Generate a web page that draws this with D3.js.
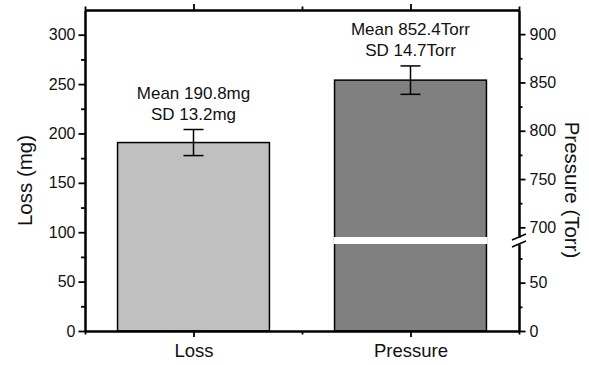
<!DOCTYPE html>
<html>
<head>
<meta charset="utf-8">
<script src="https://cdn.jsdelivr.net/npm/d3@7"></script>
<style>
  body { margin: 0; background: #fff; }
  svg { display: block; font-family: "Liberation Sans", Arial, sans-serif; }
</style>
</head>
<body>
<div id="chart"></div>
<script>
// data
const categories = ["Loss", "Pressure"];
const means = [190.8, 852.4];
const sds = [13.2, 14.7];
const units = ["mg", "Torr"];
const fills = ["#c0c0c0", "#808080"];

const leftTicks = [0, 50, 100, 150, 200, 250, 300];
const leftMinor = [25, 75, 125, 175, 225, 275];
const rightLowTicks = [0, 50];
const rightLowMinor = [25, 75];
const rightHighTicks = [700, 750, 800, 850, 900];
const rightHighMinor = [725, 775, 825, 875];

const width = 589, height = 365;
const plotL = 85, plotR = 519, plotT = 10, plotB = 331;
const breakTop = 237, breakBottom = 244;

const svg = d3.select('#chart').append('svg')
    .attr('width', width)
    .attr('height', height);

const x = d3.scaleLinear().domain([0.5, 2.5]).range([plotL, plotR]);
const yLeft = d3.scaleLinear().domain([0, 325]).range([plotB, plotT]);
// broken right axis: two pieces
const yLow = d3.scaleLinear().domain([0, 90]).range([plotB, breakBottom]);
const yHigh = d3.scaleLinear().domain([690, 925]).range([breakTop, plotT]);

const yFor = [yLeft, yHigh];
const barW = 0.7;

// bars
categories.forEach((c, i) => {
    const ys = yFor[i];
    const x0 = x(i + 1 - barW / 2), x1 = x(i + 1 + barW / 2);
    svg.append('rect')
        .attr('x', x0).attr('y', ys(means[i]))
        .attr('width', x1 - x0).attr('height', plotB - ys(means[i]))
        .attr('fill', fills[i])
        .attr('stroke', '#000')
        .attr('stroke-width', 1.5);
    if (i === 1) {
        // gap for the axis break
        svg.append('rect')
            .attr('x', x0 - 1).attr('y', breakTop)
            .attr('width', x1 - x0 + 2).attr('height', breakBottom - breakTop)
            .attr('fill', '#fff');
    }
    // error bar
    const cx = x(i + 1);
    const hi = ys(means[i] + sds[i]), lo = ys(means[i] - sds[i]);
    const g = svg.append('g').attr('stroke', '#000').attr('stroke-width', 1.5);
    g.append('line').attr('x1', cx).attr('x2', cx).attr('y1', hi).attr('y2', lo);
    g.append('line').attr('x1', cx - 10).attr('x2', cx + 10).attr('y1', hi).attr('y2', hi);
    g.append('line').attr('x1', cx - 10).attr('x2', cx + 10).attr('y1', lo).attr('y2', lo);

    // annotation
    const t = svg.append('text')
        .attr('text-anchor', 'middle')
        .attr('font-size', 17)
        .attr('fill', '#111');
    t.append('tspan').attr('x', cx).attr('y', hi - 31)
        .text(`Mean ${means[i]}${units[i]}`);
    t.append('tspan').attr('x', cx).attr('y', hi - 9.5)
        .text(`SD ${sds[i]}${units[i]}`);
});

function styleAxis(g, fs) {
    g.select('.domain').attr('stroke-width', 2);
    g.selectAll('.tick line').attr('stroke-width', 1.8);
    g.selectAll('.tick text').attr('font-size', fs).attr('fill', '#111')
        .attr('font-family', '"Liberation Sans", Arial, sans-serif');
}

// left axis
svg.append('g').attr('transform', `translate(${plotL},0)`)
    .call(d3.axisLeft(yLeft).tickValues(leftMinor).tickSize(4).tickFormat('').tickSizeOuter(0))
    .call(g => styleAxis(g, 16));
svg.append('g').attr('transform', `translate(${plotL},0)`)
    .call(d3.axisLeft(yLeft).tickValues(leftTicks).tickSize(6.5).tickPadding(3).tickSizeOuter(0))
    .call(g => styleAxis(g, 16));

// right axis, upper and lower pieces
[[yHigh, rightHighTicks, rightHighMinor], [yLow, rightLowTicks, rightLowMinor]].forEach(([s, maj, mnr]) => {
    svg.append('g').attr('transform', `translate(${plotR},0)`)
        .call(d3.axisRight(s).tickValues(mnr).tickSize(3.5).tickFormat('').tickSizeOuter(0))
        .call(g => styleAxis(g, 16));
    svg.append('g').attr('transform', `translate(${plotR},0)`)
        .call(d3.axisRight(s).tickValues(maj).tickSize(6.5).tickPadding(4).tickSizeOuter(0))
        .call(g => styleAxis(g, 16));
});

// break marks
const brk = svg.append('g').attr('stroke', '#000').attr('stroke-width', 1.5);
[breakTop, breakBottom].forEach(by => {
    brk.append('line')
        .attr('x1', plotR - 7).attr('y1', by + 3)
        .attr('x2', plotR + 7).attr('y2', by - 3);
});

// bottom axis
svg.append('g').attr('transform', `translate(0,${plotB})`)
    .call(d3.axisBottom(x).tickValues([0.5, 1.5, 2.5]).tickSize(3.5).tickFormat('').tickSizeOuter(0))
    .call(g => styleAxis(g, 18.5));
svg.append('g').attr('transform', `translate(0,${plotB})`)
    .call(d3.axisBottom(x).tickValues([1, 2]).tickSize(6).tickPadding(7)
        .tickFormat(d => categories[d - 1]).tickSizeOuter(0))
    .call(g => styleAxis(g, 18.5));

// top frame
svg.append('g').attr('transform', `translate(0,${plotT})`)
    .call(d3.axisTop(x).tickValues([0.5, 1.5, 2.5]).tickSize(3.5).tickFormat('').tickSizeOuter(0))
    .call(g => styleAxis(g, 15));
svg.append('g').attr('transform', `translate(0,${plotT})`)
    .call(d3.axisTop(x).tickValues([1, 2]).tickSize(6).tickFormat('').tickSizeOuter(0))
    .call(g => styleAxis(g, 15));

// axis titles
svg.append('text')
    .attr('transform', 'translate(31.5,180.5) rotate(-90)')
    .attr('text-anchor', 'middle')
    .attr('font-size', 20.5)
    .attr('fill', '#111')
    .text('Loss (mg)');
svg.append('text')
    .attr('transform', 'translate(564.5,190) rotate(90)')
    .attr('text-anchor', 'middle')
    .attr('font-size', 20.5)
    .attr('fill', '#111')
    .text('Pressure (Torr)');
</script>
</body>
</html>
